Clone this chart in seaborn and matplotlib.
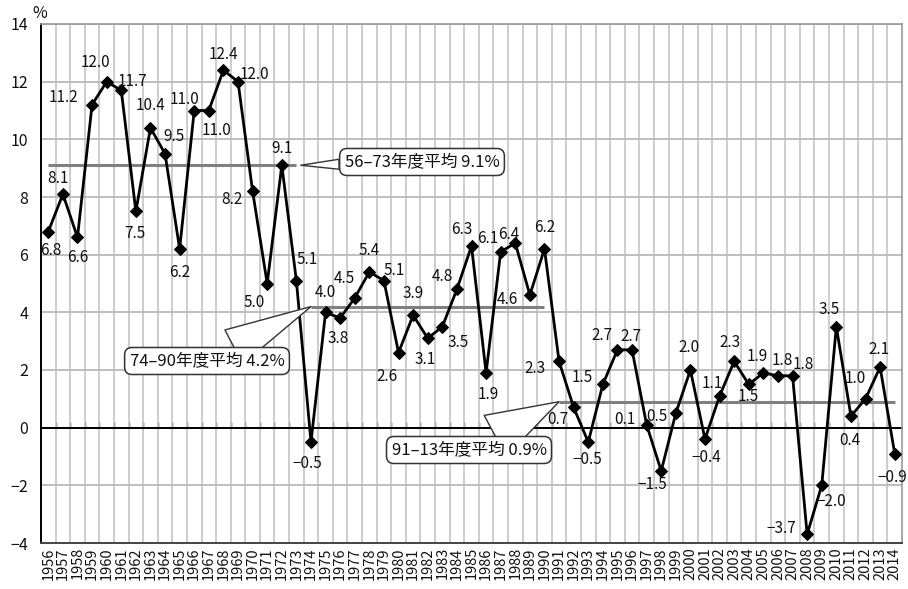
import numpy as np
import pandas as pd
import matplotlib
matplotlib.use("Agg")
import matplotlib.pyplot as plt
import seaborn as sns

# ---------------- data ----------------
years = list(range(1956, 2015))
growth = [6.8, 8.1, 6.6, 11.2, 12.0, 11.7, 7.5, 10.4, 9.5, 6.2,
          11.0, 11.0, 12.4, 12.0, 8.2, 5.0, 9.1, 5.1, -0.5, 4.0,
          3.8, 4.5, 5.4, 5.1, 2.6, 3.9, 3.1, 3.5, 4.8, 6.3,
          1.9, 6.1, 6.4, 4.6, 6.2, 2.3, 0.7, -0.5, 1.5, 2.7,
          2.7, 0.1, -1.5, 0.5, 2.0, -0.4, 1.1, 2.3, 1.5, 1.9,
          1.8, 1.8, -3.7, -2.0, 3.5, 0.4, 1.0, 2.1, -0.9]
year_labels = [str(y) for y in years]
y_ticks = [-4, -2, 0, 2, 4, 6, 8, 10, 12, 14]

avg_labels = ["56–73年度平均 9.1%", "74–90年度平均 4.2%", "91–13年度平均 0.9%"]
avg_values = [9.1, 4.2, 0.9]
avg_from = [1956, 1974, 1991]
avg_to = [1973, 1990, 2014]

# ---------------- layout / style (not data) ----------------
# label offsets in pixels (dx right, dy down)
label_offsets = [
    (3, 19), (-5, -16), (0, 20), (-29, -7), (-11, -19), (11, -9), (-1, 22), (0, -22), (9, -17), (0, 24),
    (-10, -11), (8, 20), (0, -16), (16, -7), (-21, 8), (-13, 19), (0, -17), (11, -21), (-4, 21), (0, -20),
    (-2, 20), (-10, -19), (0, -21), (10, -10), (-12, 24), (0, -22), (-3, 21), (16, 16), (-14, -13), (-10, -17),
    (2, 22), (-13, -13), (-7, -9), (-22, 4), (0, -21), (-24, 7), (-16, 12), (-1, 17), (-21, -7), (-15, -14),
    (-1, -13), (-22, -5), (-9, 14), (-19, 3), (-1, -22), (1, 18), (-7, -12), (-4, -19), (-1, 12), (-6, -16),
    (4, -15), (11, -11), (-26, -6), (10, 16), (-7, -17), (-1, 24), (-10, -20), (-1, -18), (-2, 24),
]
# callout box centres in figure pixels (from top-left), wedge widths, tip ends
callout_pos = [(422, 162), (207, 361), (469, 450)]
callout_tip_at_end = [True, False, False]
callout_wedge = [0.6, 2.3, 2.8]

sns.set_theme(style="white")
plt.rcParams['font.family'] = ['Noto Sans CJK JP', 'DejaVu Sans']
plt.rcParams['axes.unicode_minus'] = True

W, H = 908, 589
fig = plt.figure(figsize=(W / 100, H / 100), dpi=100)
ax = fig.add_axes([41 / W, 1 - 543 / H, (902 - 41) / W, (543 - 24) / H])

df = pd.DataFrame({"year": years, "growth": growth})

# grid
ax.set_xlim(years[0] - 0.5, years[-1] + 0.5)
ax.set_ylim(y_ticks[0], y_ticks[-1])
ax.set_yticks(y_ticks)
ax.set_xticks(years)
ax.set_xticks([y + 0.5 for y in years[:-1]], minor=True)
ax.yaxis.grid(True, color="#b9b9b9", lw=1.3, zorder=0)
ax.xaxis.grid(True, which="minor", color="#c9c9c9", lw=1.3, zorder=0)
ax.xaxis.grid(False, which="major")
ax.set_axisbelow(True)

# averages
for v, a, b in zip(avg_values, avg_from, avg_to):
    ax.hlines(v, a, b, color="#808080", lw=2.2, zorder=2)

# zero line with small ticks
ax.axhline(0, color="black", lw=1.4, zorder=2)
sec = ax.secondary_xaxis((0 - y_ticks[0]) / (y_ticks[-1] - y_ticks[0]))
sec.set_xticks([y + 0.5 for y in years[:-1]])
sec.set_xticklabels([])
sec.tick_params(axis="x", direction="in", length=4, width=1.0, color="black")
for s in sec.spines.values():
    s.set_color("black")
    s.set_linewidth(1.4)

# main series
sns.lineplot(data=df, x="year", y="growth", ax=ax, color="black", lw=2.0,
             marker="D", markersize=6, markeredgecolor="black", zorder=4)

# value labels
for yr, v, (dx, dy) in zip(years, growth, label_offsets):
    ax.annotate(f"{v:.1f}".replace("-", "−"), xy=(yr, v), xytext=(dx, -dy),
                textcoords="offset pixels", ha="center", va="center",
                fontsize=11, color="#111111", zorder=5)

# callouts
for lab, v, a, b, (cx, cy), at_end, ww in zip(avg_labels, avg_values, avg_from, avg_to,
                                               callout_pos, callout_tip_at_end, callout_wedge):
    tipx = b + 0.3 if at_end else a
    ax.annotate(lab, xy=(tipx, v), xytext=(cx, H - cy), textcoords="figure pixels",
                ha="center", va="center", fontsize=12, color="#111111", zorder=6,
                bbox=dict(boxstyle="round,pad=0.3,rounding_size=0.45", fc="white",
                          ec="#333333", lw=1.1),
                arrowprops=dict(arrowstyle=f"wedge,tail_width={ww},shrink_factor=0.5",
                                fc="white", ec="#333333", lw=1.0,
                                shrinkA=0, shrinkB=0))

# axes styling
ax.set_xticklabels(year_labels, rotation=90, fontsize=10.5)
ax.tick_params(axis="x", which="both", length=0, pad=3, colors="#111111")
ax.set_yticklabels([f"{t}".replace("-", "−") for t in y_ticks])
ax.tick_params(axis="y", length=0, pad=9, labelsize=11.5, colors="#111111")
ax.set_xlabel("")
ax.set_ylabel("")
ax.spines["left"].set_color("black")
ax.spines["left"].set_linewidth(1.4)
ax.spines["bottom"].set_color("#444444")
ax.spines["bottom"].set_linewidth(1.4)
for s in ("top", "right"):
    ax.spines[s].set_color("#999999")
    ax.spines[s].set_linewidth(1.2)

fig.text(40 / W, 1 - 13 / H, "%", ha="center", va="center", fontsize=11.5, color="#111111")

fig.savefig("out.png", dpi=100)
